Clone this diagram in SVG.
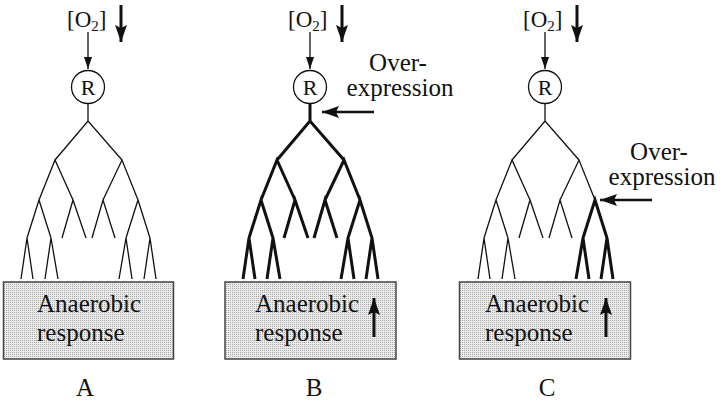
<svg xmlns="http://www.w3.org/2000/svg" width="720" height="404" viewBox="0 0 720 404">
<style>
  text { font-family: 'Liberation Serif', 'DejaVu Serif', 'Times New Roman', serif; fill: #111; }
  .t { font-size: 25px; }
  .o2 { font-size: 23px; }
  .r { font-size: 22px; text-anchor: middle; }
  .lbl { font-size: 25px; text-anchor: middle; }
  .thin { fill: none; stroke: #111; stroke-width: 1.3; }
  .thick { fill: none; stroke: #111; stroke-width: 3; }
  .box { fill: url(#stip); stroke: #444; stroke-width: 1.5; }
  .circ { fill: #fff; stroke: #111; stroke-width: 1.3; }
</style>
<defs>
  <pattern id="stip" width="2" height="2" patternUnits="userSpaceOnUse">
    <rect width="2" height="2" fill="#ececec"/>
    <rect width="1" height="1" fill="#a8a8a8"/>
  </pattern>
  <marker id="hs" markerUnits="userSpaceOnUse" markerWidth="14" markerHeight="10" refX="12" refY="4" orient="auto">
    <path d="M0,0 L12,4 L0,8 z" fill="#111"/>
  </marker>
  <marker id="hb" markerUnits="userSpaceOnUse" markerWidth="18" markerHeight="14" refX="17" refY="6" orient="auto">
    <path d="M0,0 L17,6 L0,12 L3,6 z" fill="#111"/>
  </marker>
  <path id="tree" d="M88,104 V121 M55,160 L88,121 L122,160 M39,200 L55,160 L73,200 M103,200 L122,160 L138,200 M27,238 L39,200 L51,238 M62,238 L73,200 L86,238 M92,238 L103,200 L115,238 M126,238 L138,200 L150,238 M21,279 L27,238 L33,279 M45,279 L51,238 L58,279 M119,279 L126,238 L132,279 M144,279 L150,238 L156,279"/>
</defs>

<!-- connectors -->
<g id="connectors">
  <g id="conn-A">
    <line class="thin" x1="88" y1="32" x2="88" y2="69" marker-end="url(#hs)"/>
    <line class="thick" x1="121" y1="5" x2="121" y2="42" marker-end="url(#hb)"/>
    <use href="#tree" class="thin"/>
  </g>
  <g id="conn-B">
    <line class="thin" x1="310" y1="32" x2="310" y2="69" marker-end="url(#hs)"/>
    <line class="thick" x1="342" y1="5" x2="342" y2="42" marker-end="url(#hb)"/>
    <use href="#tree" class="thick" transform="translate(222,0)"/>
    <line stroke="#111" stroke-width="2.5" x1="374" y1="112" x2="322" y2="112" marker-end="url(#hb)"/>
  </g>
  <g id="conn-C">
    <line class="thin" x1="545" y1="32" x2="545" y2="69" marker-end="url(#hs)"/>
    <line class="thick" x1="577" y1="5" x2="577" y2="42" marker-end="url(#hb)"/>
    <path class="thin" transform="translate(457,0)" d="M88,104 V121 M55,160 L88,121 L122,160 M39,200 L55,160 L73,200 M103,200 L122,160 L138,200 M27,238 L39,200 L51,238 M62,238 L73,200 L86,238 M92,238 L103,200 L115,238 M21,279 L27,238 L33,279 M45,279 L51,238 L58,279"/>
    <path class="thick" transform="translate(457,0)" d="M126,238 L138,200 L150,238 M119,279 L126,238 L132,279 M144,279 L150,238 L156,279"/>
    <line stroke="#111" stroke-width="2.5" x1="652" y1="200" x2="600" y2="200" marker-end="url(#hb)"/>
  </g>
</g>

<!-- Panel A -->
<g id="o2-A"><text class="o2" x="67" y="27">[O<tspan font-size="15" dy="4">2</tspan><tspan dy="-4">]</tspan></text></g>
<g id="R-A"><circle class="circ" cx="88" cy="87" r="16.5"/><text class="r" x="88" y="95">R</text></g>
<g id="box-A">
  <rect class="box" x="3.5" y="282" width="170" height="77"/>
  <text class="t" x="37" y="312">Anaerobic</text>
  <text class="t" x="37" y="341">response</text>
</g>
<g id="label-A"><text class="lbl" x="85" y="396">A</text></g>

<!-- Panel B -->
<g id="o2-B"><text class="o2" x="288" y="27">[O<tspan font-size="15" dy="4">2</tspan><tspan dy="-4">]</tspan></text></g>
<g id="R-B"><circle class="circ" cx="310" cy="87" r="16.5"/><text class="r" x="310" y="95">R</text></g>
<g id="over-B">
  <text class="t" x="398" y="71" text-anchor="middle">Over-</text>
  <text class="t" x="400" y="96" text-anchor="middle">expression</text>
</g>
<g id="box-B">
  <rect class="box" x="225" y="282" width="171" height="77"/>
  <text class="t" x="255" y="312">Anaerobic</text>
  <text class="t" x="255" y="341">response</text>
  <line class="thick" x1="374" y1="337" x2="374" y2="298" marker-end="url(#hb)"/>
</g>
<g id="label-B"><text class="lbl" x="314" y="396">B</text></g>

<!-- Panel C -->
<g id="o2-C"><text class="o2" x="523" y="27">[O<tspan font-size="15" dy="4">2</tspan><tspan dy="-4">]</tspan></text></g>
<g id="R-C"><circle class="circ" cx="545" cy="87" r="16.5"/><text class="r" x="545" y="95">R</text></g>
<g id="over-C">
  <text class="t" x="659" y="160" text-anchor="middle">Over-</text>
  <text class="t" x="662" y="185" text-anchor="middle">expression</text>
</g>
<g id="box-C">
  <rect class="box" x="459.5" y="282" width="171" height="77"/>
  <text class="t" x="485" y="312">Anaerobic</text>
  <text class="t" x="485" y="341">response</text>
  <line class="thick" x1="606" y1="337" x2="606" y2="298" marker-end="url(#hb)"/>
</g>
<g id="label-C"><text class="lbl" x="547" y="396">C</text></g>
</svg>
